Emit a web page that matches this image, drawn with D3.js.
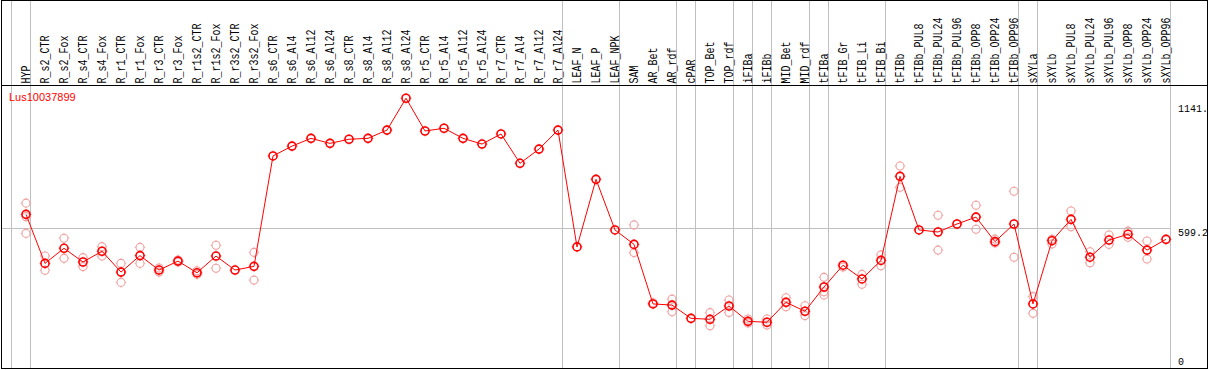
<!DOCTYPE html>
<html>
<head>
<meta charset="utf-8">
<script src="https://cdn.jsdelivr.net/npm/d3@7"></script>
<style>
  html, body { margin: 0; padding: 0; background: #fff; }
  svg { display: block; }
</style>
</head>
<body>
<svg id="canvas"></svg>
<script>
// Dimensioni finestra
const width  = 1209;
const height = 370;

// Nome del gene
const geneName = 'Lus10037899';

// Campioni (asse x)
const categories = [
  'HYP', 'R_s2_CTR', 'R_s2_Fox', 'R_s4_CTR', 'R_s4_Fox', 'R_r1_CTR', 'R_r1_Fox',
  'R_r3_CTR', 'R_r3_Fox', 'R_r1s2_CTR', 'R_r1s2_Fox', 'R_r3s2_CTR', 'R_r3s2_Fox',
  'R_s6_CTR', 'R_s6_Al4', 'R_s6_Al12', 'R_s6_Al24', 'R_s8_CTR', 'R_s8_Al4',
  'R_s8_Al12', 'R_s8_Al24', 'R_r5_CTR', 'R_r5_Al4', 'R_r5_Al12', 'R_r5_Al24',
  'R_r7_CTR', 'R_r7_Al4', 'R_r7_Al12', 'R_r7_Al24', 'LEAF_N', 'LEAF_P', 'LEAF_NPK',
  'SAM', 'AR_Bet', 'AR_rdf', 'cPAR', 'TOP_Bet', 'TOP_rdf', 'iFIBa', 'iFIBb',
  'MID_Bet', 'MID_rdf', 'tFIBa', 'tFIB_Gr', 'tFIB_Li', 'tFIB_Bi', 'tFIBb',
  'tFIBb_PUL8', 'tFIBb_PUL24', 'tFIBb_PUL96', 'tFIBb_OPP8', 'tFIBb_OPP24', 'tFIBb_OPP96',
  'sXYLa', 'sXYLb', 'sXYLb_PUL8', 'sXYLb_PUL24', 'sXYLb_PUL96', 'sXYLb_OPP8',
  'sXYLb_OPP24', 'sXYLb_OPP96'
];

// Valori medi (linea rossa)
const meanValues = [
  660, 446, 512, 452, 499, 408, 480, 417, 456, 405, 478, 417, 433,
  915, 958, 992, 970, 988, 992, 1028, 1167, 1024, 1036, 992, 967,
  1011, 883, 945, 1028, 518, 813, 592,
  529, 269, 264, 206, 202, 260, 193, 189, 276, 237,
  343, 438, 378, 459, 826, 592, 583, 618, 648, 541, 618,
  269, 545, 638, 473, 548, 573, 504, 551
];

// Repliche (cerchi chiari)
const replicateValues = [
  [709, 577, 650], [478, 416], [556, 468], [471, 432], [519, 478], [446, 363],
  [516, 446], [426, 408], [461, 452], [414, 398], [525, 425], [], [494, 373],
  [], [], [], [], [], [], [], [], [], [], [], [],
  [], [], [], [], [], [], [],
  [614, 493], [274], [290, 235], [], [231, 174], [286, 232], [203, 186], [203, 177],
  [296, 257], [261, 218],
  [385, 322, 308], [430], [398, 355], [483, 436], [871, 778], [], [656, 504], [],
  [700, 595], [552, 535], [761, 473],
  [301, 228], [551, 531], [675, 606], [497, 449], [570, 529], [587, 560], [544, 465], []
];

// Separatori verticali: dopo questi campioni
const groupEnds = [
  'HYP', 'R_r7_Al24', 'LEAF_NPK', 'AR_rdf', 'cPAR', 'TOP_rdf', 'iFIBa', 'iFIBb',
  'MID_rdf', 'tFIBa', 'tFIB_Bi', 'tFIBb_OPP96', 'sXYLa', 'sXYLb_OPP96'
];

// Tick asse y
const yTicks      = [0, 599.2, 1141];
const yTickLabels = ['0', '599.2', '1141.'];
const yGridTicks  = [599.2];

const red  = '#ff0000';
const pale = '#f0a0a0';
const grid = '#c0c0c0';
const mono = '"Liberation Mono", "DejaVu Sans Mono", monospace';

const svg = d3.select('#canvas')
  .attr('width',  width)
  .attr('height', height);

// Scale
const x = d3.scalePoint()
  .domain(categories)
  .range([26, 1166]);

const y = d3.scaleLinear()
  .domain([0, 1141])
  .range([365.55, 104.2]);

const crisp = v => Math.round(v) + 0.5;

// Griglia verticale
const sepX = [x('HYP') - x.step()].concat(groupEnds.map(d => x(d)))
  .map(v => crisp(v + 4.4));

svg.append('g')
  .selectAll('line')
  .data(sepX)
  .enter()
  .append('line')
    .attr('x1', d => d).attr('x2', d => d)
    .attr('y1', 0).attr('y2', 368)
    .attr('stroke', grid)
    .attr('stroke-width', 1);

// Griglia orizzontale
svg.append('g')
  .selectAll('line')
  .data(yGridTicks)
  .enter()
  .append('line')
    .attr('x1', 1).attr('x2', crisp(x('sXYLb_OPP96') + 4.4))
    .attr('y1', d => crisp(y(d))).attr('y2', d => crisp(y(d)))
    .attr('stroke', grid)
    .attr('stroke-width', 1);

// Etichette dei campioni (ruotate)
svg.append('g')
  .selectAll('text')
  .data(categories)
  .enter()
  .append('text')
    .attr('transform', d => `translate(${x(d) + 3.5},83.5) rotate(-90) scale(1,1.3)`)
    .attr('font-family', mono)
    .attr('font-size', '10px')
    .attr('fill', '#000')
    .text(d => d);

// Separatore intestazione e cornice
svg.append('line')
  .attr('x1', 1).attr('x2', 1208)
  .attr('y1', 85.5).attr('y2', 85.5)
  .attr('stroke', '#000');

svg.append('rect')
  .attr('x', 1.5).attr('y', 0.5)
  .attr('width', 1206).attr('height', 368)
  .attr('fill', 'none')
  .attr('stroke', '#000');

// Etichette asse y
svg.append('g')
  .selectAll('text')
  .data(yTicks)
  .enter()
  .append('text')
    .attr('x', 1178)
    .attr('y', d => Math.min(y(d) + 7.5, 365))
    .attr('font-family', mono)
    .attr('font-size', '10px')
    .attr('fill', '#000')
    .text((d, i) => yTickLabels[i]);

// Nome del gene
svg.append('text')
  .attr('x', 9)
  .attr('y', 101)
  .attr('font-family', '"Liberation Sans", Arial, sans-serif')
  .attr('font-size', '11px')
  .attr('fill', red)
  .text(geneName);

// Marker: cerchio con piccole tacche
function drawMarker(g, color, sw) {
  g.append('circle')
    .attr('r', 4)
    .attr('fill', 'none')
    .attr('stroke', color)
    .attr('stroke-width', sw);
  [[0, -1], [0, 1], [-1, 0], [1, 0]].forEach(([dx, dy]) => {
    g.append('line')
      .attr('x1', dx * 4).attr('y1', dy * 4)
      .attr('x2', dx * 5.3).attr('y2', dy * 5.3)
      .attr('stroke', color)
      .attr('stroke-width', 0.8);
  });
}

// Repliche
const reps = [];
categories.forEach((c, i) => {
  replicateValues[i].forEach(v => reps.push({ c, v }));
});

svg.append('g')
  .selectAll('g')
  .data(reps)
  .enter()
  .append('g')
    .attr('transform', d => `translate(${x(d.c)},${y(d.v)})`)
    .each(function() { drawMarker(d3.select(this), pale, 1.1); });

// Linea delle medie
const line = d3.line()
  .x((d, i) => x(categories[i]))
  .y(d => y(d));

svg.append('path')
  .datum(meanValues)
  .attr('d', line)
  .attr('fill', 'none')
  .attr('stroke', red)
  .attr('stroke-width', 1);

// Marker delle medie
svg.append('g')
  .selectAll('g')
  .data(meanValues)
  .enter()
  .append('g')
    .attr('transform', (d, i) => `translate(${x(categories[i])},${y(d)})`)
    .each(function() { drawMarker(d3.select(this), red, 1.6); });
</script>
</body>
</html>
